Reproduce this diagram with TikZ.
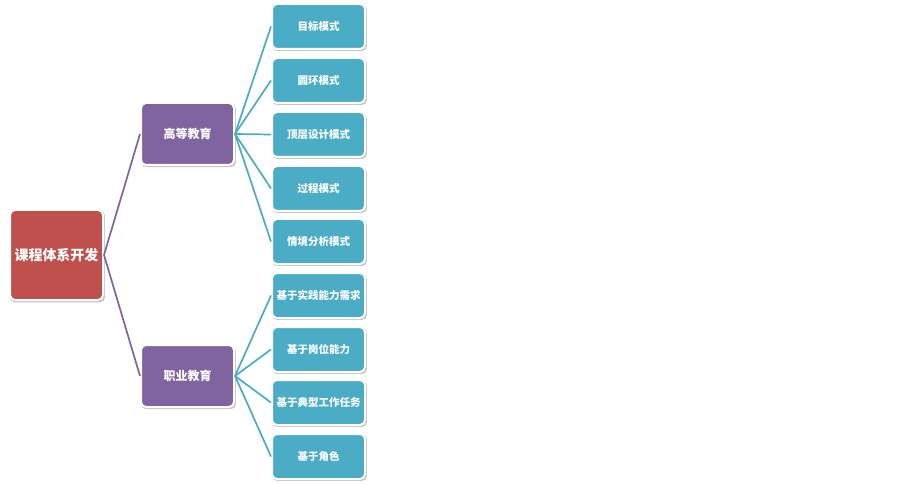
\documentclass[tikz,border=0pt]{standalone}
\usepackage{fontspec}
\newfontfamily\cjk{Noto Sans CJK SC}
\usetikzlibrary{shadows}
\definecolor{rootc}{HTML}{C0504D}
\definecolor{midc}{HTML}{8064A2}
\definecolor{leafc}{HTML}{4BACC6}
\begin{document}
\begin{tikzpicture}[x=1pt,y=-1pt,
  box/.style={rectangle, rounded corners=5pt, draw=white, line width=2pt,
    text=white, font=\cjk\bfseries, align=center, inner sep=0pt,
    drop shadow={shadow xshift=1pt, shadow yshift=-1.5pt, shadow scale=1.02, opacity=0.45, fill=gray}},
  rootbox/.style={box, fill=rootc, minimum width=93pt, minimum height=90pt, font=\cjk\bfseries\fontsize{14}{16}\selectfont},
  midbox/.style={box, fill=midc, minimum width=93pt, minimum height=62pt, font=\cjk\bfseries\fontsize{12}{14}\selectfont},
  leafbox/.style={box, fill=leafc, minimum width=93pt, minimum height=45pt, font=\cjk\bfseries\fontsize{10.5}{12}\selectfont},
  midlink/.style={draw=midc, line width=1.7pt},
  leaflink/.style={draw=leafc, line width=1.7pt}]
\useasboundingbox (0,0) rectangle (903,484);
\fill[white] (0,0) rectangle (903,484);
\node[rootbox] (root) at (56.5,255) {课程体系开发};
\node[midbox] (hi) at (187.5,134) {高等教育};
\node[midbox] (vo) at (187.5,376) {职业教育};
\node[leafbox] (l1) at (318.5,26.5) {目标模式};
\node[leafbox] (l2) at (318.5,80.5) {圆环模式};
\node[leafbox] (l3) at (318.5,134.5) {顶层设计模式};
\node[leafbox] (l4) at (318.5,188.5) {过程模式};
\node[leafbox] (l5) at (318.5,241.5) {情境分析模式};
\node[leafbox] (l6) at (318.5,295.5) {基于实践能力需求};
\node[leafbox] (l7) at (318.5,349.5) {基于岗位能力};
\node[leafbox] (l8) at (318.5,402.5) {基于典型工作任务};
\node[leafbox] (l9) at (318.5,456.5) {基于角色};
\draw[midlink] (root.east) -- (hi.west);
\draw[midlink] (root.east) -- (vo.west);
\foreach \l in {l1,l2,l3,l4,l5} \draw[leaflink] (hi.east) -- (\l.west);
\foreach \l in {l6,l7,l8,l9} \draw[leaflink] (vo.east) -- (\l.west);
\end{tikzpicture}
\end{document}
